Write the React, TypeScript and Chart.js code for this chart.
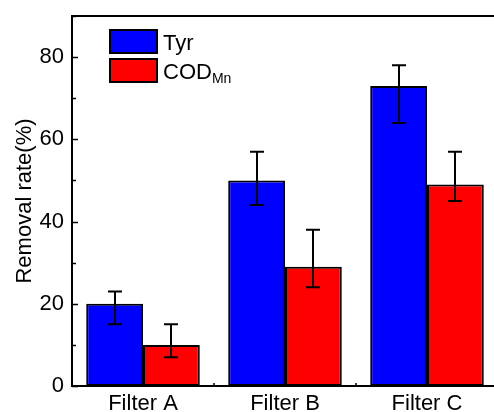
import React, { useEffect, useRef } from "react";
import { Chart, registerables } from "chart.js";

Chart.register(...registerables);

const categories = ["Filter A", "Filter B", "Filter C"];
const tyrValues = [20, 50, 73];
const tyrErrPlus = [3, 7, 5];
const tyrErrMinus = [5, 6, 9];
const codValues = [10, 29, 49];
const codErrPlus = [5, 9, 8];
const codErrMinus = [3, 5, 4];
const yMin = 0;
const yMax = 90;
const yStep = 10;
const yLabelStep = 20;

const FONT = '"Liberation Sans", Arial, Helvetica, sans-serif';

const errorsByDataset = [
  { plus: tyrErrPlus, minus: tyrErrMinus },
  { plus: codErrPlus, minus: codErrMinus },
];

const decorPlugin = {
  id: "decor",
  afterDatasetsDraw(chart: any) {
    const ctx = chart.ctx;
    const yScale = chart.scales.y;
    ctx.save();
    ctx.strokeStyle = "#000";
    ctx.lineWidth = 2;
    chart.data.datasets.forEach((ds: any, di: number) => {
      const meta = chart.getDatasetMeta(di);
      const err = errorsByDataset[di];
      meta.data.forEach((bar: any, i: number) => {
        const v = ds.data[i];
        const yt = yScale.getPixelForValue(v + err.plus[i]);
        const yb = yScale.getPixelForValue(v - err.minus[i]);
        const x = Math.round(bar.x);
        ctx.beginPath();
        ctx.moveTo(x, yt);
        ctx.lineTo(x, yb);
        ctx.moveTo(x - 7, yt);
        ctx.lineTo(x + 7, yt);
        ctx.moveTo(x - 7, yb);
        ctx.lineTo(x + 7, yb);
        ctx.stroke();
      });
    });
    ctx.restore();
  },
  afterDraw(chart: any) {
    const ctx = chart.ctx;
    const { left, right, top, bottom } = chart.chartArea;
    const yScale = chart.scales.y;
    const xScale = chart.scales.x;
    ctx.save();
    ctx.strokeStyle = "#000";
    ctx.lineWidth = 2;
    ctx.beginPath();
    ctx.moveTo(left, top);
    ctx.lineTo(left, bottom + 1);
    ctx.moveTo(left - 1, bottom);
    ctx.lineTo(right, bottom);
    ctx.moveTo(left - 1, top);
    ctx.lineTo(right, top);
    ctx.stroke();
    // y ticks inward
    ctx.lineWidth = 1.5;
    ctx.beginPath();
    yScale.ticks.forEach((t: any) => {
      const y = Math.round(yScale.getPixelForValue(t.value)) + 0.5;
      const major = t.value % yLabelStep === 0;
      ctx.moveTo(left, y);
      ctx.lineTo(left + (major ? 6 : 4), y);
    });
    // x ticks at category boundaries
    for (let i = 1; i < categories.length; i++) {
      const x = Math.round((xScale.getPixelForValue(i - 1) + xScale.getPixelForValue(i)) / 2);
      ctx.moveTo(x, bottom);
      ctx.lineTo(x, bottom - 3);
    }
    ctx.stroke();

    // y title
    ctx.fillStyle = "#000";
    ctx.font = `22px ${FONT}`;
    ctx.save();
    ctx.translate(31, (top + bottom) / 2);
    ctx.rotate(-Math.PI / 2);
    ctx.textAlign = "center";
    ctx.textBaseline = "alphabetic";
    ctx.fillText("Removal rate(%)", 0, 0);
    ctx.restore();

    // legend
    const items = [
      { color: "#0000FF", main: "Tyr", sub: "" },
      { color: "#FF0000", main: "COD", sub: "Mn" },
    ];
    items.forEach((it, i) => {
      const bx = 110;
      const by = 30 + i * 29;
      ctx.fillStyle = it.color;
      ctx.fillRect(bx, by, 47, 23);
      ctx.strokeStyle = "#000";
      ctx.lineWidth = 2;
      ctx.strokeRect(bx, by, 47, 23);
      ctx.fillStyle = "#000";
      ctx.textAlign = "left";
      ctx.textBaseline = "alphabetic";
      ctx.font = `22px ${FONT}`;
      ctx.fillText(it.main, 163, by + 20);
      if (it.sub) {
        const w = ctx.measureText(it.main).width;
        ctx.font = `14px ${FONT}`;
        ctx.fillText(it.sub, 163 + w, by + 24);
      }
    });
    ctx.restore();
  },
};

export default function App() {
  const ref = useRef<HTMLCanvasElement>(null);
  useEffect(() => {
    if (!ref.current) return;
    const chart = new Chart(ref.current, {
      type: "bar",
      data: {
        labels: categories,
        datasets: [
          {
            label: "Tyr",
            data: tyrValues,
            backgroundColor: "#0000FF",
            borderColor: "#000",
            borderWidth: 2,
            borderSkipped: false,
            categoryPercentage: 0.8,
            barPercentage: 1.0,
          },
          {
            label: "COD",
            data: codValues,
            backgroundColor: "#FF0000",
            borderColor: "#000",
            borderWidth: 2,
            borderSkipped: false,
            categoryPercentage: 0.8,
            barPercentage: 1.0,
          },
        ],
      },
      options: {
        responsive: false,
        animation: false,
        devicePixelRatio: 1,
        layout: { padding: { top: 16, right: 0, left: 0, bottom: 0 } },
        plugins: { legend: { display: false }, tooltip: { enabled: false } },
        scales: {
          x: {
            grid: { display: false, drawTicks: false },
            border: { display: false },
            ticks: { color: "#000", font: { family: FONT, size: 22 }, padding: 5, maxRotation: 0 },
            afterFit: (s: any) => {
              s.height = 26;
              s.paddingLeft = 0;
              s.paddingRight = 0;
            },
          },
          y: {
            min: yMin,
            max: yMax,
            grid: { display: false, drawTicks: false },
            border: { display: false },
            ticks: {
              stepSize: yStep,
              color: "#000",
              font: { family: FONT, size: 22 },
              padding: 8,
              callback: (v: any) => (Number(v) % yLabelStep === 0 ? String(v) : ""),
            },
            afterFit: (s: any) => {
              s.width = 72;
              s.paddingTop = 0;
              s.paddingBottom = 0;
            },
          },
        },
      },
      plugins: [decorPlugin],
    });
    return () => chart.destroy();
  }, []);
  return (
    <div style={{ position: "fixed", left: 0, top: 0, width: 494, height: 412, overflow: "hidden", background: "#fff" }}>
      <canvas ref={ref} width={498} height={412} style={{ display: "block" }} />
    </div>
  );
}
